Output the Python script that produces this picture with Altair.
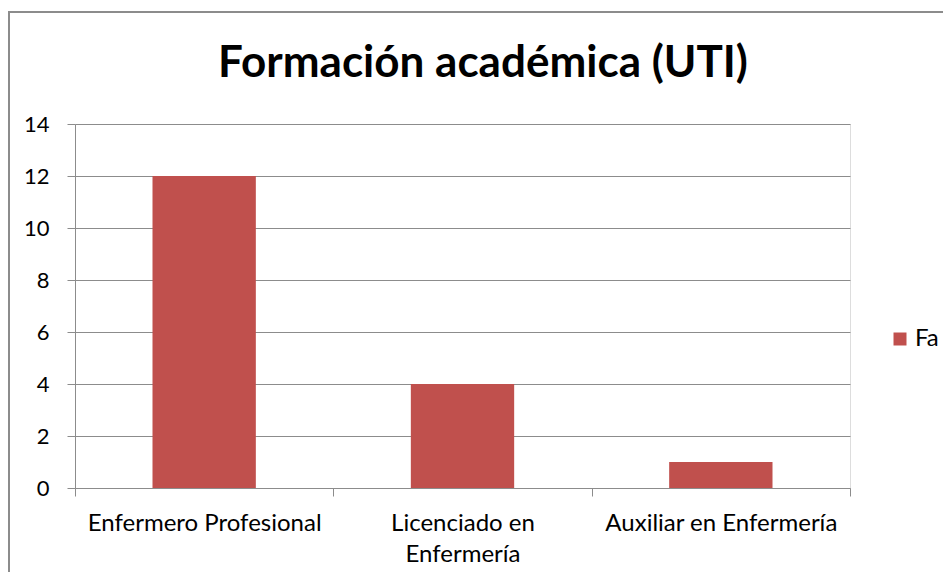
import altair as alt
import pandas as pd

categorias = ["Enfermero Profesional", "Licenciado en Enfermería", "Auxiliar en Enfermería"]
valores = [12, 4, 1]
serie = "Fa"
titulo = "Formación académica (UTI)"
y_ticks = [0, 2, 4, 6, 8, 10, 12, 14]

df = pd.DataFrame({"cat": categorias, "val": valores, "serie": [serie] * len(categorias)})

FONT = "Lato"
GRAY = "#8c8c8c"
LBL = 24

frame = alt.Chart(pd.DataFrame({"a": [0]})).mark_rect(
    fill=None, stroke=GRAY, strokeWidth=2
).encode(
    x=alt.value(-66), x2=alt.value(1000), y=alt.value(-112), y2=alt.value(800)
)

title_mark = alt.Chart(pd.DataFrame({"t": [titulo]})).mark_text(
    font=FONT, fontSize=44, fontWeight="bold", color="#000000",
    align="center", baseline="alphabetic"
).encode(
    text="t:N", x=alt.value(408), y=alt.value(-47)
)

bars = alt.Chart(df).mark_bar(color="#C0504D", width=alt.RelativeBandSize(0.4)).encode(
    x=alt.X(
        "cat:N",
        sort=categorias,
        title=None,
        scale=alt.Scale(paddingInner=0, paddingOuter=0),
        axis=alt.Axis(
            labelAngle=0,
            tickBand="extent",
            tickSize=8,
            tickColor=GRAY,
            domainColor=GRAY,
            labelFont=FONT,
            labelFontSize=LBL,
            labelColor="#000000",
            labelPadding=15,
            labelLineHeight=31,
            labelLimit=400,
            labelExpr="datum.label == 'Licenciado en Enfermería' ? ['Licenciado en', 'Enfermería'] : datum.label",
            labelBaseline="top",
        ),
    ),
    y=alt.Y(
        "val:Q",
        title=None,
        scale=alt.Scale(domain=[0, 14], nice=False),
        axis=alt.Axis(
            values=y_ticks,
            grid=True,
            gridColor=GRAY,
            tickColor=GRAY,
            domainColor=GRAY,
            tickSize=8,
            labelFont=FONT,
            labelFontSize=22,
            labelColor="#000000",
            labelPadding=18,
        ),
    ),
    color=alt.Color(
        "serie:N",
        scale=alt.Scale(domain=[serie], range=["#C0504D"]),
        legend=alt.Legend(
            title=None,
            orient="none",
            legendX=813,
            legendY=203,
            symbolType="square",
            symbolSize=169,
            symbolStrokeWidth=0,
            labelFont=FONT,
            labelFontSize=LBL,
            labelColor="#000000",
            labelOffset=3,
        ),
    ),
)

chart = alt.layer(frame, title_mark, bars).properties(
    width=775,
    height=364,
    autosize=alt.AutoSizeParams(type="none"),
    padding={"left": 67, "top": 116, "right": 93, "bottom": 84},
).configure_view(stroke=None).configure(background="white")

chart.save("out.html", embed_options={"renderer": "svg", "actions": False})
